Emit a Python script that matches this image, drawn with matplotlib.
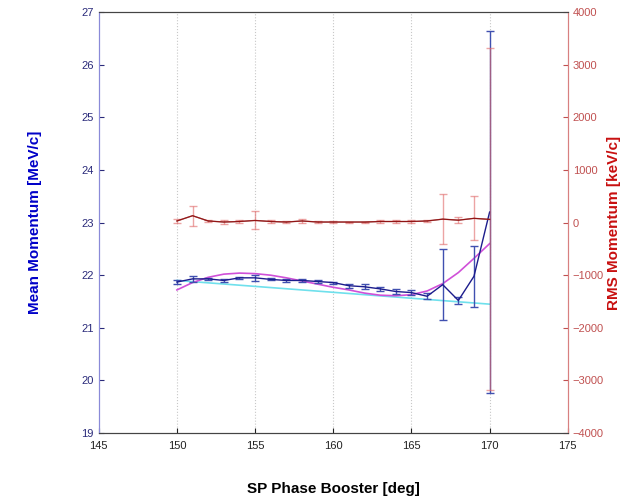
import matplotlib
matplotlib.use('Agg')
import matplotlib.pyplot as plt

plt.rcParams['font.family'] = ['Liberation Sans', 'DejaVu Sans']

# phase scan points
phase = [150, 151, 152, 153, 154, 155, 156, 157, 158, 159, 160,
         161, 162, 163, 164, 165, 166, 167, 168, 169, 170]

# mean momentum [MeV/c] and its error
mean_p = [21.87, 21.93, 21.93, 21.90, 21.95, 21.95, 21.92, 21.90, 21.90, 21.88, 21.86,
          21.80, 21.78, 21.74, 21.69, 21.67, 21.60, 21.82, 21.52, 21.98, 23.20]
mean_err = [0.04, 0.05, 0.02, 0.03, 0.02, 0.06, 0.02, 0.02, 0.02, 0.02, 0.02,
            0.04, 0.05, 0.04, 0.05, 0.05, 0.06, 0.67, 0.06, 0.58, 3.43]

# fits to the mean momentum
lin_x = [150, 170]
lin_y = [21.90, 21.45]
poly_y = [21.72, 21.86, 21.96, 22.02, 22.04, 22.03, 22.00, 21.95, 21.89, 21.83, 21.77,
          21.72, 21.66, 21.62, 21.61, 21.63, 21.70, 21.84, 22.05, 22.32, 22.60]

# rms momentum [keV/c] and its error
rms_p = [30, 130, 30, 10, 20, 40, 20, 10, 30, 10, 10,
         10, 10, 20, 20, 20, 30, 65, 45, 80, 60]
rms_err = [40, 190, 20, 30, 20, 170, 20, 20, 40, 15, 15,
           10, 10, 20, 20, 20, 20, 475, 60, 420, 3250]

blue = '#1c1c8c'
red = '#a01818'

fig = plt.figure(figsize=(6.33, 4.99), dpi=100)
fig.subplots_adjust(left=0.156, right=0.897, bottom=0.132, top=0.976)
ax1 = fig.add_subplot(111)
ax2 = ax1.twinx()

ax1.plot(lin_x, lin_y, color='#6fe0ec', lw=1.2, zorder=2)
ax1.plot(phase, poly_y, color='#d050d8', lw=1.2, zorder=2)
ax1.errorbar(phase, mean_p, yerr=mean_err, color=blue, ecolor='#4050b0', lw=1.0,
             elinewidth=1.0, capsize=3, zorder=3)

ax2.errorbar(phase, rms_p, yerr=rms_err, color=red, ecolor='#e06868', lw=1.0,
             elinewidth=1.0, capsize=3, alpha=0.6)
ax2.plot(phase, rms_p, color='#7a1010', lw=0.8)

ax1.set_xlim(145, 175)
ax1.set_ylim(19, 27)
ax2.set_ylim(-4000, 4000)
ax1.set_xticks(range(145, 176, 5))
ax1.set_yticks(range(19, 28))
ax2.set_yticks(range(-4000, 4001, 1000))

for x in range(150, 171, 5):
    ax1.axvline(x, color='#c8c8c8', lw=0.8, ls=':', zorder=0)

ax1.tick_params(axis='x', direction='in', labelsize=8, colors='#222222', pad=6)
ax1.tick_params(axis='y', direction='in', labelsize=8, colors='#2a2a7a')
ax2.tick_params(axis='y', direction='in', labelsize=8, colors='#c05050')

for a in (ax1, ax2):
    a.spines['top'].set_color('#444444')
    a.spines['bottom'].set_color('#444444')
    a.spines['left'].set_color('#8a8ad8')
    a.spines['right'].set_color('#d88080')

ax1.set_xlabel('SP Phase Booster [deg]', fontsize=11, fontweight='bold', labelpad=22)
ax1.set_ylabel('Mean Momentum [MeV/c]', fontsize=11, fontweight='bold', color='#0000c8', labelpad=28)
ax2.set_ylabel('RMS Momentum [keV/c]', fontsize=11, fontweight='bold', color='#c81010', labelpad=2)

fig.savefig('out.png', dpi=100)
